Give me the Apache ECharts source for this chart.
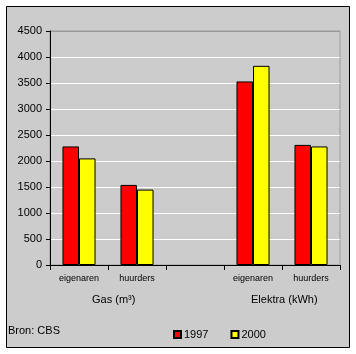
<!DOCTYPE html>
<html>
<head>
<meta charset="utf-8">
<script src="https://cdn.jsdelivr.net/npm/echarts@6/dist/echarts.min.js"></script>
<style>
  html, body { margin: 0; padding: 0; background: #fff; }
  #chart { width: 356px; height: 354px; }
</style>
</head>
<body>
<div id="chart"></div>
<script>
const categories = ['eigenaren', 'huurders', '', 'eigenaren', 'huurders']
const groupLabels = ['Gas (m³)', 'Elektra (kWh)']
const values1997 = [2280, 1540, null, 3530, 2310]
const values2000 = [2050, 1450, null, 3830, 2280]
const yTicks = [0, 500, 1000, 1500, 2000, 2500, 3000, 3500, 4000, 4500]

const chart = echarts.init(document.getElementById('chart'))
const font = 'Liberation Sans, Arial, sans-serif'

// white grid lines, the top one is the gray plot border
const splitColors = yTicks.map((v, i) => (i === yTicks.length - 1 ? '#999' : '#fff'))

chart.setOption({
  animation: false,
  backgroundColor: '#fff',
  textStyle: { fontFamily: font },
  graphic: [
    {
      type: 'rect',
      z: -10,
      shape: { x: 6.5, y: 6.5, width: 343, height: 341 },
      style: { fill: '#cccccc', stroke: '#000', lineWidth: 1 },
    },
    {
      type: 'text', left: 92, top: 294,
      style: { text: groupLabels[0], font: '11px ' + font, fill: '#000' },
    },
    {
      type: 'text', left: 251, top: 294,
      style: { text: groupLabels[1], font: '11px ' + font, fill: '#000' },
    },
    {
      type: 'text', left: 8, top: 325,
      style: { text: 'Bron: CBS', font: '11px ' + font, fill: '#000' },
    },
  ],
  legend: {
    left: 168,
    top: 324,
    itemWidth: 7,
    itemHeight: 7,
    itemGap: 22,
    icon: 'rect',
    textStyle: { fontSize: 11, color: '#000', fontFamily: font, padding: [0, 0, 0, -2] },
    data: ['1997', '2000'],
  },
  grid: {
    left: 50,
    right: 16,
    top: 31,
    bottom: 89,
    show: true,
    borderColor: '#999',
    borderWidth: 1,
    backgroundColor: 'transparent',
  },
  xAxis: {
    type: 'category',
    data: categories,
    axisLine: { lineStyle: { color: '#000', width: 1 } },
    axisTick: { show: true, interval: 0, length: 5, lineStyle: { color: '#000' } },
    axisLabel: { interval: 0, fontSize: 9, color: '#000', margin: 9 },
  },
  yAxis: {
    type: 'value',
    min: 0,
    max: 4500,
    interval: 500,
    axisLine: { show: true, lineStyle: { color: '#000', width: 1 } },
    axisTick: { show: true, length: 4, lineStyle: { color: '#000' } },
    axisLabel: { fontSize: 11, color: '#000', margin: 8, formatter: v => String(v) },
    splitLine: { show: true, lineStyle: { color: splitColors, width: 1 } },
  },
  series: [
    {
      name: '1997',
      type: 'bar',
      data: values1997,
      barGap: '0%',
      barCategoryGap: '43%',
      itemStyle: { color: '#ff0000', borderColor: '#000', borderWidth: 1 },
    },
    {
      name: '2000',
      type: 'bar',
      data: values2000,
      itemStyle: { color: '#ffff00', borderColor: '#000', borderWidth: 1 },
    },
  ],
})
</script>
</body>
</html>
